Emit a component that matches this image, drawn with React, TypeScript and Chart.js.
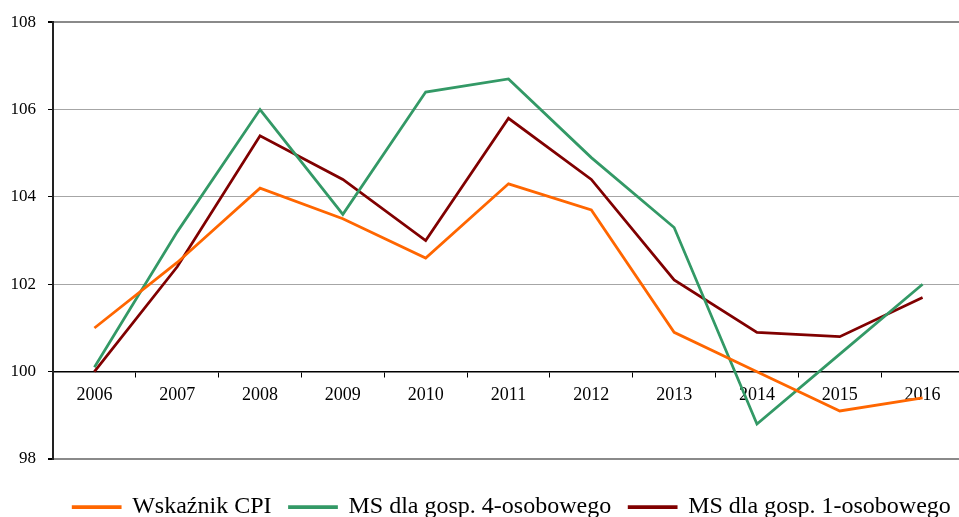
import React, { useEffect, useRef } from "react";
import { Chart, registerables } from "chart.js";

Chart.register(...registerables);

const years = ["2006", "2007", "2008", "2009", "2010", "2011", "2012", "2013", "2014", "2015", "2016"];
const cpi = [101.0, 102.5, 104.2, 103.5, 102.6, 104.3, 103.7, 100.9, 100.0, 99.1, 99.4];
const ms4 = [100.1, 103.2, 106.0, 103.6, 106.4, 106.7, 104.9, 103.3, 98.8, 100.4, 102.0];
const ms1 = [100.0, 102.4, 105.4, 104.4, 103.0, 105.8, 104.4, 102.1, 100.9, 100.8, 101.7];
const seriesNames = ["Wskaźnik CPI", "MS dla gosp. 4-osobowego", "MS dla gosp. 1-osobowego"];
const seriesColors = ["#ff6600", "#339966", "#800000"];

const FONT = "'Liberation Serif', 'Times New Roman', serif";

const legendShift = {
  id: "legendShift",
  afterLayout(chart: any) {
    const l = chart.legend;
    if (!l) return;
    l.left += 30;
    l.right += 30;
    l.top += 18;
    l.bottom += 18;
  },
};

export default function App() {
  const ref = useRef<HTMLCanvasElement | null>(null);
  useEffect(() => {
    if (!ref.current) return;
    const data = [cpi, ms4, ms1];
    const chart = new Chart(ref.current, {
      type: "line",
      data: {
        labels: years,
        datasets: data.map((d, i) => ({
          label: seriesNames[i],
          data: d,
          borderColor: seriesColors[i],
          backgroundColor: seriesColors[i],
          borderWidth: 2.75,
          pointRadius: 0,
          tension: 0,
          fill: false,
        })),
      },
      options: {
        responsive: false,
        animation: false,
        layout: { padding: { top: 22, left: 0, right: 0, bottom: 6 } },
        plugins: {
          tooltip: { enabled: false },
          legend: {
            position: "bottom",
            labels: {
              font: { family: FONT, size: 24 },
              color: "#000",
              boxWidth: 47,
              boxHeight: 1,
              padding: 18,
            },
          },
        },
        scales: {
          x: {
            position: { y: 100 } as any,
            offset: true,
            grid: {
              offset: true,
              drawOnChartArea: false,
              drawTicks: true,
              tickLength: 5,
              tickColor: "#000",
            },
            border: { display: true, color: "#000", width: 1.5 },
            ticks: {
              font: { family: FONT, size: 18 },
              color: "#000",
              padding: 8,
              maxRotation: 0,
            },
          },
          y: {
            min: 98,
            max: 108,
            afterFit: (s: any) => {
              s.width = 53;
            },
            ticks: {
              stepSize: 2,
              font: { family: FONT, size: 17 },
              color: "#000",
              padding: 12,
            },
            grid: {
              color: (ctx: any) =>
                ctx.tick && (ctx.tick.value === 98 || ctx.tick.value === 108) ? "#8a8a8a" : "#a6a6a6",
              lineWidth: (ctx: any) =>
                ctx.tick && (ctx.tick.value === 98 || ctx.tick.value === 108) ? 2 : 1,
              tickColor: "#000",
              tickLength: 5,
              drawTicks: true,
            },
            border: { display: true, color: "#222", width: 2 },
          },
        },
      },
      plugins: [legendShift],
    } as any);
    return () => chart.destroy();
  }, []);
  return (
    <div style={{ position: "absolute", left: 0, top: 0, width: 959, height: 517, overflow: "hidden", background: "#fff" }}>
      <canvas ref={ref} width={964} height={517} style={{ width: 964, height: 517, display: "block" }} />
    </div>
  );
}
